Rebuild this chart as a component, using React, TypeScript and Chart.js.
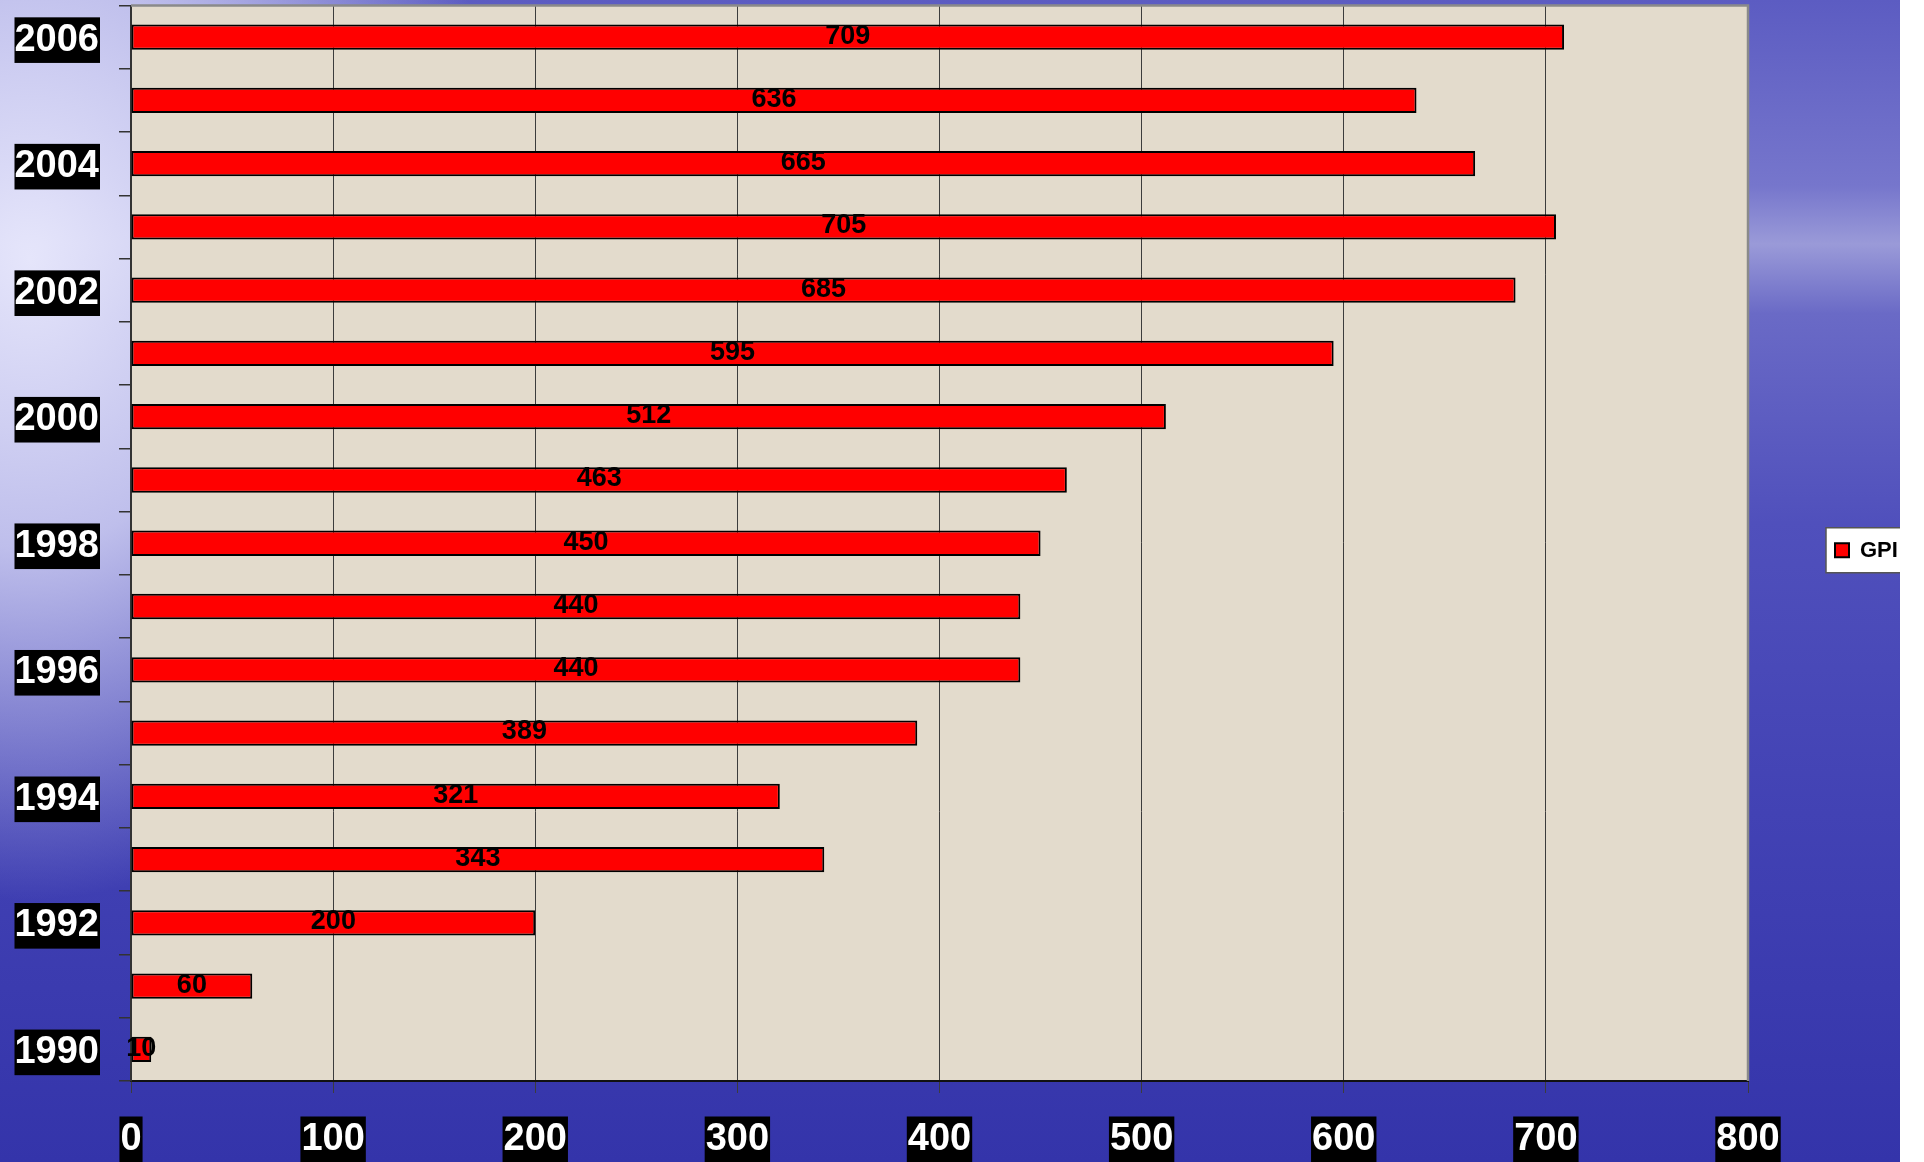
import React, { useEffect, useRef } from "react";
import { Chart, registerables } from "chart.js";

Chart.register(...registerables);

const years: string[] = [
  "1990", "1991", "1992", "1993", "1994", "1995", "1996", "1997", "1998",
  "1999", "2000", "2001", "2002", "2003", "2004", "2005", "2006",
];
const gpiValues: number[] = [
  10, 60, 200, 343, 321, 389, 440, 440, 450, 463, 512, 595, 685, 705, 665, 636, 709,
];
const seriesName = "GPI";
const xMin = 0;
const xMax = 800;
const xStep = 100;

const FONT = "Arial, 'Liberation Sans', Helvetica, sans-serif";

const plotBgPlugin = {
  id: "plotBg",
  beforeDraw(chart: any) {
    const { ctx, chartArea: a } = chart;
    ctx.save();
    ctx.fillStyle = "#e3dbcc";
    ctx.fillRect(a.left, a.top, a.right - a.left, a.bottom - a.top);
    ctx.restore();
  },
  beforeDatasetsDraw(chart: any) {
    const { ctx, chartArea: a } = chart;
    ctx.save();
    ctx.strokeStyle = "#8a8a8a";
    ctx.lineWidth = 2.5;
    ctx.beginPath();
    ctx.moveTo(a.left, a.top);
    ctx.lineTo(a.right, a.top);
    ctx.lineTo(a.right, a.bottom);
    ctx.stroke();
    ctx.restore();
  },
};

const valueLabelPlugin = {
  id: "valueLabels",
  afterDatasetsDraw(chart: any) {
    const { ctx } = chart;
    const meta = chart.getDatasetMeta(0);
    const data = chart.data.datasets[0].data as number[];
    ctx.save();
    ctx.font = `bold 27px ${FONT}`;
    ctx.fillStyle = "#000";
    ctx.textAlign = "center";
    ctx.textBaseline = "middle";
    meta.data.forEach((bar: any, i: number) => {
      const cx = (bar.x + bar.base) / 2;
      ctx.fillText(String(data[i]), cx, bar.y - 1);
    });
    ctx.restore();
  },
};

const legendPlugin = {
  id: "customLegend",
  afterDraw(chart: any) {
    const { ctx, chartArea: a } = chart;
    const ds = chart.data.datasets[0];
    const left = a.right + 78;
    const cy = (a.top + a.bottom) / 2 + 7;
    const h = 45;
    ctx.save();
    ctx.fillStyle = "#fff";
    ctx.fillRect(left, cy - h / 2, 140, h);
    ctx.strokeStyle = "#555";
    ctx.lineWidth = 1.5;
    ctx.strokeRect(left, cy - h / 2, 140, h);
    ctx.fillStyle = ds.backgroundColor;
    ctx.fillRect(left + 9, cy - 7, 14, 14);
    ctx.strokeStyle = "#000";
    ctx.lineWidth = 2;
    ctx.strokeRect(left + 9, cy - 7, 14, 14);
    ctx.fillStyle = "#000";
    ctx.font = `bold 22px ${FONT}`;
    ctx.textAlign = "left";
    ctx.textBaseline = "middle";
    ctx.fillText(ds.label, left + 34, cy + 1);
    ctx.restore();
  },
};

function zeroPad(scale: any) {
  scale.paddingTop = 0;
  scale.paddingBottom = 0;
  scale.paddingLeft = 0;
  scale.paddingRight = 0;
}

export default function App() {
  const canvasRef = useRef<HTMLCanvasElement | null>(null);

  useEffect(() => {
    if (!canvasRef.current) return;
    const chart = new Chart(canvasRef.current, {
      type: "bar",
      data: {
        labels: years,
        datasets: [
          {
            label: seriesName,
            data: gpiValues,
            backgroundColor: "#ff0000",
            borderColor: "#000000",
            borderWidth: 2,
            borderSkipped: false,
            barPercentage: 0.4,
            categoryPercentage: 1.0,
          },
        ],
      },
      options: {
        indexAxis: "y",
        animation: false,
        responsive: false,
        maintainAspectRatio: false,
        devicePixelRatio: 1,
        layout: { padding: { left: 14.5, right: 152, top: 5.5, bottom: 0 } },
        plugins: {
          legend: { display: false },
          tooltip: { enabled: false },
        },
        scales: {
          x: {
            type: "linear",
            min: xMin,
            max: xMax,
            afterFit: (s: any) => {
              s.height = 81;
              zeroPad(s);
            },
            ticks: {
              stepSize: xStep,
              color: "#ffffff",
              font: { family: FONT, size: 38, weight: "bold", lineHeight: 1.2 },
              padding: 23.5,
              showLabelBackdrop: true,
              backdropColor: "#000000",
              backdropPadding: { top: 0, bottom: 0, left: 1, right: 1 },
            },
            grid: {
              color: "#3c3c3c",
              lineWidth: 1,
              tickLength: 12,
              drawTicks: true,
            },
            border: { color: "#111", width: 2 },
          },
          y: {
            type: "category",
            reverse: true,
            offset: true,
            afterFit: (s: any) => {
              s.width = 116.5;
              zeroPad(s);
            },
            ticks: {
              autoSkip: false,
              color: "#ffffff",
              font: { family: FONT, size: 38, weight: "bold", lineHeight: 1.2 },
              padding: 20,
              labelOffset: 3,
              callback: (_v: any, i: number) => (i % 2 === 0 ? years[i] : ""),
              showLabelBackdrop: true,
              backdropColor: (c: any) => (c.index % 2 === 0 ? "#000000" : "rgba(0,0,0,0)"),
              backdropPadding: { top: 0, bottom: 0, left: 1, right: 1 },
            },
            grid: {
              offset: true,
              drawOnChartArea: false,
              drawTicks: true,
              tickLength: 12,
              color: "#333",
              lineWidth: 1.5,
            },
            border: { color: "#333", width: 2 },
          },
        },
      } as any,
      plugins: [plotBgPlugin, valueLabelPlugin, legendPlugin],
    });
    return () => chart.destroy();
  }, []);

  return (
    <div
      style={{
        position: "absolute",
        left: 0,
        top: 0,
        width: 1924,
        height: 1162,
        background: "#ffffff",
        overflow: "hidden",
      }}
    >
      <div
        style={{
          position: "absolute",
          left: 0,
          top: 0,
          width: 1900,
          height: 1162,
          overflow: "hidden",
          background:
            "radial-gradient(ellipse 480px 640px at 30px 260px, rgba(232,232,252,0.97) 0%, rgba(210,210,244,0.85) 45%, rgba(190,190,236,0) 100%)," +
            "linear-gradient(to bottom, #5c5cc2 0%, #7676cc 16%, #9a9ad8 21%, #6a6ac6 27%, #5050bc 45%, #4242b4 70%, #3434aa 100%)",
        }}
      >
        <canvas
          ref={canvasRef}
          width={1900}
          height={1162}
          style={{ display: "block", width: 1900, height: 1162 }}
        />
      </div>
    </div>
  );
}
